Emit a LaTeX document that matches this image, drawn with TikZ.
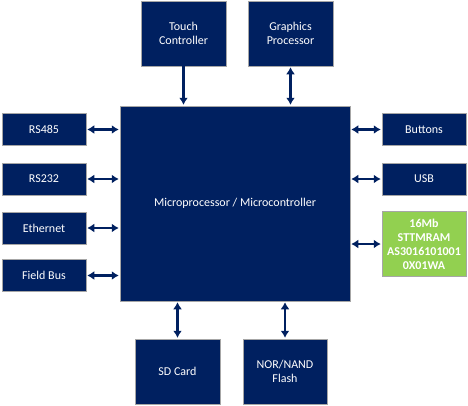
\documentclass[tikz,border=0pt]{standalone}
\usepackage{fontspec}
\setmainfont{Carlito}
\usepackage{tikz}
\usetikzlibrary{positioning}
\usetikzlibrary{arrows.meta}
\usepackage{xcolor}
\definecolor{navy}{HTML}{002060}
\definecolor{memGreen}{HTML}{92D050}
\tikzset{boxChip/.style={draw=gray!70, line width=0.5pt, fill=navy, text=white, inner sep=0pt, align=center, font=\fontsize{12}{14}\selectfont}}
\tikzset{boxPort/.style={boxChip, minimum width=84pt, minimum height=32pt}}
\tikzset{boxPeri/.style={boxChip, minimum width=85pt, minimum height=65pt}}
\tikzset{boxMem/.style={boxChip, fill=memGreen, minimum width=84pt, minimum height=65pt, font=\bfseries\fontsize{12}{14}\selectfont}}
\tikzset{link/.style={draw=navy, line width=2.2pt, shorten <=1pt, shorten >=1pt, {Latex[length=7pt,width=9pt]}-{Latex[length=7pt,width=9pt]}}}
\tikzset{linkOne/.style={draw=navy, line width=2.2pt, shorten >=1pt, -{Latex[length=7pt,width=9pt]}}}

\begin{document}
\begin{tikzpicture}[x=1pt, y=-1pt]

\useasboundingbox (0, 0) rectangle (468, 405);

\node[boxChip, minimum width=230pt, minimum height=195pt] (mcu) at (235, 203.5) {Microprocessor / Microcontroller};

\node[boxPeri] (touch) at (183.5, 33.5) {Touch\\Controller};
\node[boxPeri] (gpu) at (290.5, 33.5) {Graphics\\Processor};

\node[boxPort] (rs485) at (44, 129.5) {RS485};
\node[boxPort] (rs232) at (44, 179) {RS232};
\node[boxPort] (eth) at (44, 228) {Ethernet};
\node[boxPort] (fbus) at (44, 275.5) {Field Bus};

\node[boxPort] (buttons) at (424, 129.5) {Buttons};
\node[boxPort] (usb) at (424, 179) {USB};
\node[boxMem] (mram) at (424, 244) {16Mb\\STTMRAM\\AS3016101001\\0X01WA};

\node[boxPeri] (sd) at (177.5, 371.5) {SD Card};
\node[boxPeri, minimum width=84pt] (flash) at (285, 371.5) {NOR/NAND\\Flash};

\draw[linkOne] (touch.south) to (touch.south |- mcu.north);
\draw[link] (gpu.south) to (gpu.south |- mcu.north);

\draw[link] (rs485.east) to (rs485.east -| mcu.west);
\draw[link] (rs232.east) to (rs232.east -| mcu.west);
\draw[link] (eth.east) to (eth.east -| mcu.west);
\draw[link] (fbus.east) to (fbus.east -| mcu.west);

\draw[link] (buttons.west) to (buttons.west -| mcu.east);
\draw[link] (usb.west) to (usb.west -| mcu.east);
\draw[link] (mram.west) to (mram.west -| mcu.east);

\draw[link] (sd.north) to (sd.north |- mcu.south);
\draw[link] (flash.north) to (flash.north |- mcu.south);

\end{tikzpicture}
\end{document}
